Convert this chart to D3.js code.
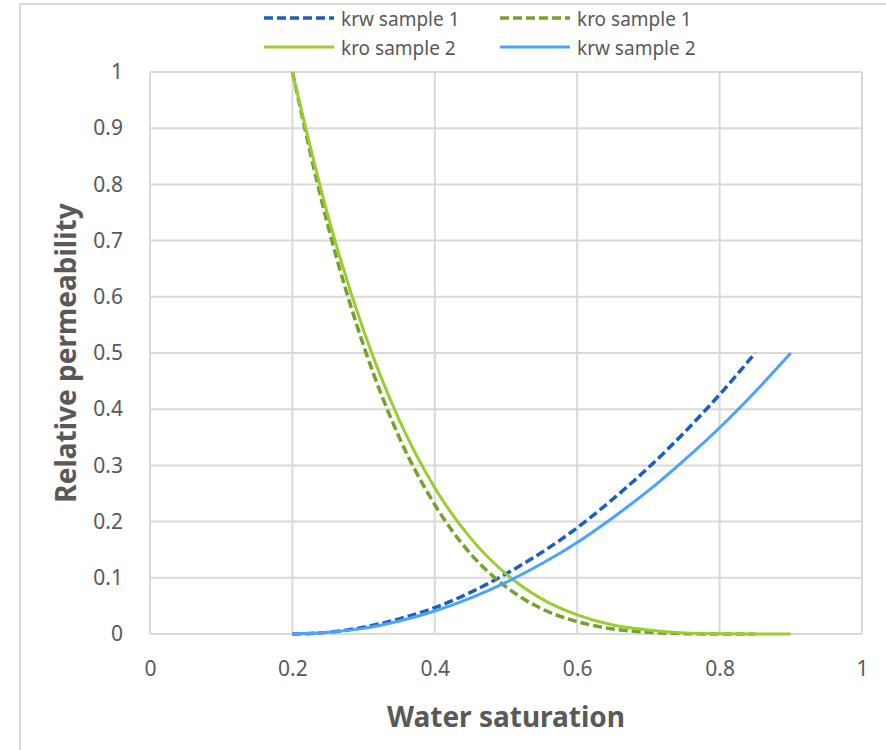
<!DOCTYPE html>
<html><head><meta charset="utf-8">
<script src="https://cdn.jsdelivr.net/npm/d3@7"></script>
<style>body{margin:0;background:#fff;} svg{display:block;font-family:"Noto Sans",sans-serif;}</style>
</head><body><svg id="c" width="886" height="750"></svg>
<script>
// Data
const swA = [0.2,0.25,0.3,0.35,0.4,0.45,0.5,0.55,0.6,0.65,0.7,0.75,0.8,0.85];
const swB = [0.2,0.25,0.3,0.35,0.4,0.45,0.5,0.55,0.6,0.65,0.7,0.75,0.8,0.85,0.9];
const krw1 = [0,0.003,0.012,0.027,0.047,0.074,0.107,0.145,0.189,0.240,0.296,0.358,0.426,0.5];
const kro1 = [1,0.726,0.513,0.350,0.230,0.143,0.084,0.045,0.022,0.009,0.003,0.0006,0.00003,0];
const kro2 = [1,0.744,0.540,0.381,0.260,0.171,0.107,0.0625,0.034,0.016,0.007,0.002,0.0004,0.00003,0];
const krw2 = [0,0.003,0.010,0.023,0.041,0.064,0.092,0.125,0.163,0.207,0.255,0.309,0.367,0.431,0.5];
const xTicks = [0,0.2,0.4,0.6,0.8,1];
const yTicks = [0,0.1,0.2,0.3,0.4,0.5,0.6,0.7,0.8,0.9,1];
const seriesNames = ["krw sample 1","kro sample 1","kro sample 2","krw sample 2"];

const series = [
  {name:seriesNames[0], x:swA, y:krw1, color:"#1a5fc0", dash:"9,4", w:3.5},
  {name:seriesNames[1], x:swA, y:kro1, color:"#76a12a", dash:"9,4", w:3.5},
  {name:seriesNames[2], x:swB, y:kro2, color:"#9acd32", dash:null, w:3},
  {name:seriesNames[3], x:swB, y:krw2, color:"#4ba3ff", dash:null, w:3}
];

const svg = d3.select("#c");
// outer chart border
svg.append("line").attr("x1",20).attr("x2",20).attr("y1",3).attr("y2",750).attr("stroke","#d9d9d9").attr("stroke-width",2);
svg.append("line").attr("x1",20).attr("x2",886).attr("y1",4).attr("y2",4).attr("stroke","#d9d9d9").attr("stroke-width",2);

const L=150,R=862,T=72,B=634;
const x = d3.scaleLinear().domain([0,1]).range([L,R]);
const y = d3.scaleLinear().domain([0,1]).range([B,T]);

const g = svg.append("g");
// grid
g.selectAll(".gy").data(yTicks).join("line").attr("x1",L).attr("x2",R)
  .attr("y1",d=>y(d)).attr("y2",d=>y(d)).attr("stroke","#d9d9d9").attr("stroke-width",2);
g.selectAll(".gx").data(xTicks).join("line").attr("y1",T).attr("y2",B)
  .attr("x1",d=>x(d)).attr("x2",d=>x(d)).attr("stroke","#d9d9d9").attr("stroke-width",2);

// axes labels via d3 axes
const xa = svg.append("g").attr("transform",`translate(0,${B})`)
  .call(d3.axisBottom(x).tickValues(xTicks).tickFormat(d=>String(d)).tickSize(0).tickPadding(27));
const ya = svg.append("g").attr("transform",`translate(${L},0)`)
  .call(d3.axisLeft(y).tickValues(yTicks).tickFormat(d=>String(+d.toFixed(1))).tickSize(0).tickPadding(27));
[xa,ya].forEach(a=>{a.select(".domain").remove();a.selectAll("text").attr("fill","#595959").style("font-size","21px").style("font-family","'Noto Sans',sans-serif");});

// lines
const line = d3.line().curve(d3.curveMonotoneX);
series.forEach(s=>{
  const pts = s.x.map((v,i)=>[x(v),y(s.y[i])]);
  svg.append("path").attr("d",line(pts)).attr("fill","none").attr("stroke",s.color)
    .attr("stroke-width",s.w).attr("stroke-dasharray",s.dash);
});

// axis titles
svg.append("text").attr("x",506).attr("y",727).attr("text-anchor","middle").attr("fill","#595959")
  .style("font-size","28px").style("font-weight","bold").text("Water saturation");
svg.append("text").attr("transform","translate(76,353) rotate(-90)").attr("text-anchor","middle").attr("fill","#595959")
  .style("font-size","28px").style("font-weight","bold").text("Relative permeability");

// legend
const legPos = [[264,18],[500,18],[264,47],[500,47]];
series.forEach((s,i)=>{
  const [lx,ly]=legPos[i];
  svg.append("line").attr("x1",lx).attr("x2",lx+70).attr("y1",ly).attr("y2",ly)
    .attr("stroke",s.color).attr("stroke-width",s.w).attr("stroke-dasharray",s.dash);
  svg.append("text").attr("x",lx+77).attr("y",ly+8).attr("fill","#595959").style("font-size","19px").text(s.name);
});
</script></body></html>
